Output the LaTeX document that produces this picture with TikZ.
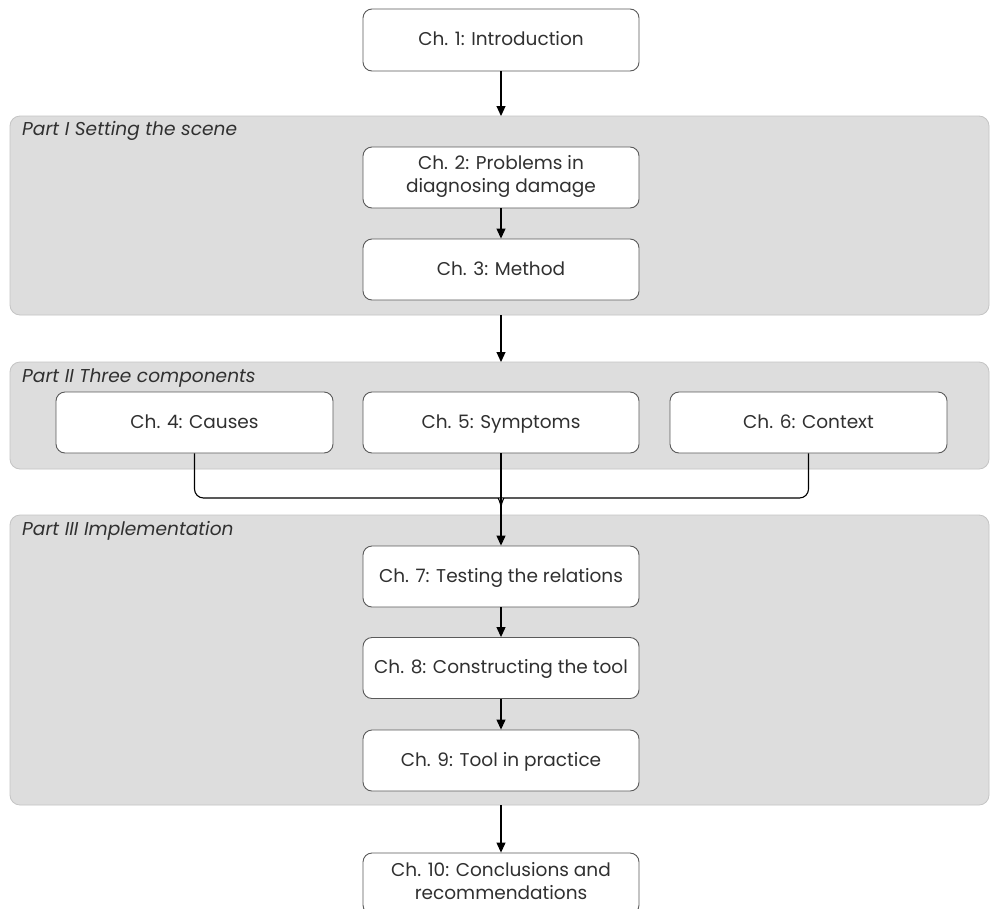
\documentclass[tikz,border=0pt]{standalone}
\usepackage{fontspec}
\setmainfont{Poppins}
\usetikzlibrary{arrows.meta}
\definecolor{panelfill}{HTML}{DDDDDD}
\definecolor{panelline}{HTML}{C4C4C4}
\definecolor{boxline}{HTML}{5A5A5A}
\definecolor{inkgray}{HTML}{303030}
% strut that keeps every box label at the same height in its box
\newcommand{\capstrut}{\rule[-0.33em]{0pt}{1.3em}}
\tikzset{
  panel/.style={draw=panelline, fill=panelfill, line width=0.8pt, rounded corners=10pt},
  partlabel/.style={anchor=base west, inner sep=0pt, font=\fontsize{18.6}{20}\selectfont\itshape, text=inkgray},
  chbox/.style={draw=boxline, fill=white, line width=0.9pt, rounded corners=9pt,
    minimum width=276pt, minimum height=61pt, inner sep=0pt, align=center,
    font=\fontsize{18.5}{23}\selectfont, text=inkgray,
    execute at begin node=\capstrut},
  flow/.style={line width=1.1pt, -{Triangle[width=9pt,length=10pt]}},
  link/.style={line width=1.1pt}
}
\begin{document}
\begin{tikzpicture}[x=1pt, y=-1pt]
  \clip (0,0) rectangle (990,908);
  \fill[white] (0,0) rectangle (990,908);

  % grey panels for the three parts
  \draw[panel] (10,116) rectangle (989,315);
  \draw[panel] (10,362) rectangle (989,469);
  \draw[panel] (10,515) rectangle (989,805);
  \coordinate (p1top) at (501,116);
  \coordinate (p1bot) at (501,315);
  \coordinate (p2top) at (501,362);
  \coordinate (p3bot) at (501,805);

  \node[partlabel] (l1) at (22,135) {Part I Setting the scene};
  \node[partlabel] (l2) at (22,382) {Part II Three components};
  \node[partlabel] (l3) at (22,535) {Part III Implementation};

  % chapter boxes
  \node[chbox, minimum height=62pt] (c1) at (501,40) {Ch. 1: Introduction};
  \node[chbox] (c2) at (501,177.5) {Ch. 2: Problems in\\diagnosing damage};
  \node[chbox] (c3) at (501,269.5) {Ch. 3: Method};
  \node[chbox, minimum width=277pt] (c4) at (194.5,422.5) {Ch. 4: Causes};
  \node[chbox] (c5) at (501,422.5) {Ch. 5: Symptoms};
  \node[chbox, minimum width=277pt] (c6) at (808.5,422.5) {Ch. 6: Context};
  \node[chbox] (c7) at (501,576.5) {Ch. 7: Testing the relations};
  \node[chbox] (c8) at (501,668) {Ch. 8: Constructing the tool};
  \node[chbox] (c9) at (501,760.5) {Ch. 9: Tool in practice};
  \node[chbox] (c10) at (501,883.5) {Ch. 10: Conclusions and\\recommendations};

  % flow arrows
  \draw[flow] (c1.south) -- (p1top);
  \draw[flow] (c2.south) -- (c3.north);
  \draw[flow] (p1bot) -- (p2top);
  \draw[flow] (c5.south) -- (c7.north);
  \draw[flow] (c7.south) -- (c8.north);
  \draw[flow] (c8.south) -- (c9.north);
  \draw[flow] (p3bot) -- (c10.north);

  % brace joining the three components
  \coordinate (bj) at (501,509);
  \draw[link, rounded corners=9pt] (c4.south) -- (194.5,498) -- (490,498)
    [sharp corners] .. controls (497,498) and (501,501) .. (bj);
  \draw[link, rounded corners=9pt] (c6.south) -- (808.5,498) -- (512,498)
    [sharp corners] .. controls (505,498) and (501,501) .. (bj);
\end{tikzpicture}
\end{document}
